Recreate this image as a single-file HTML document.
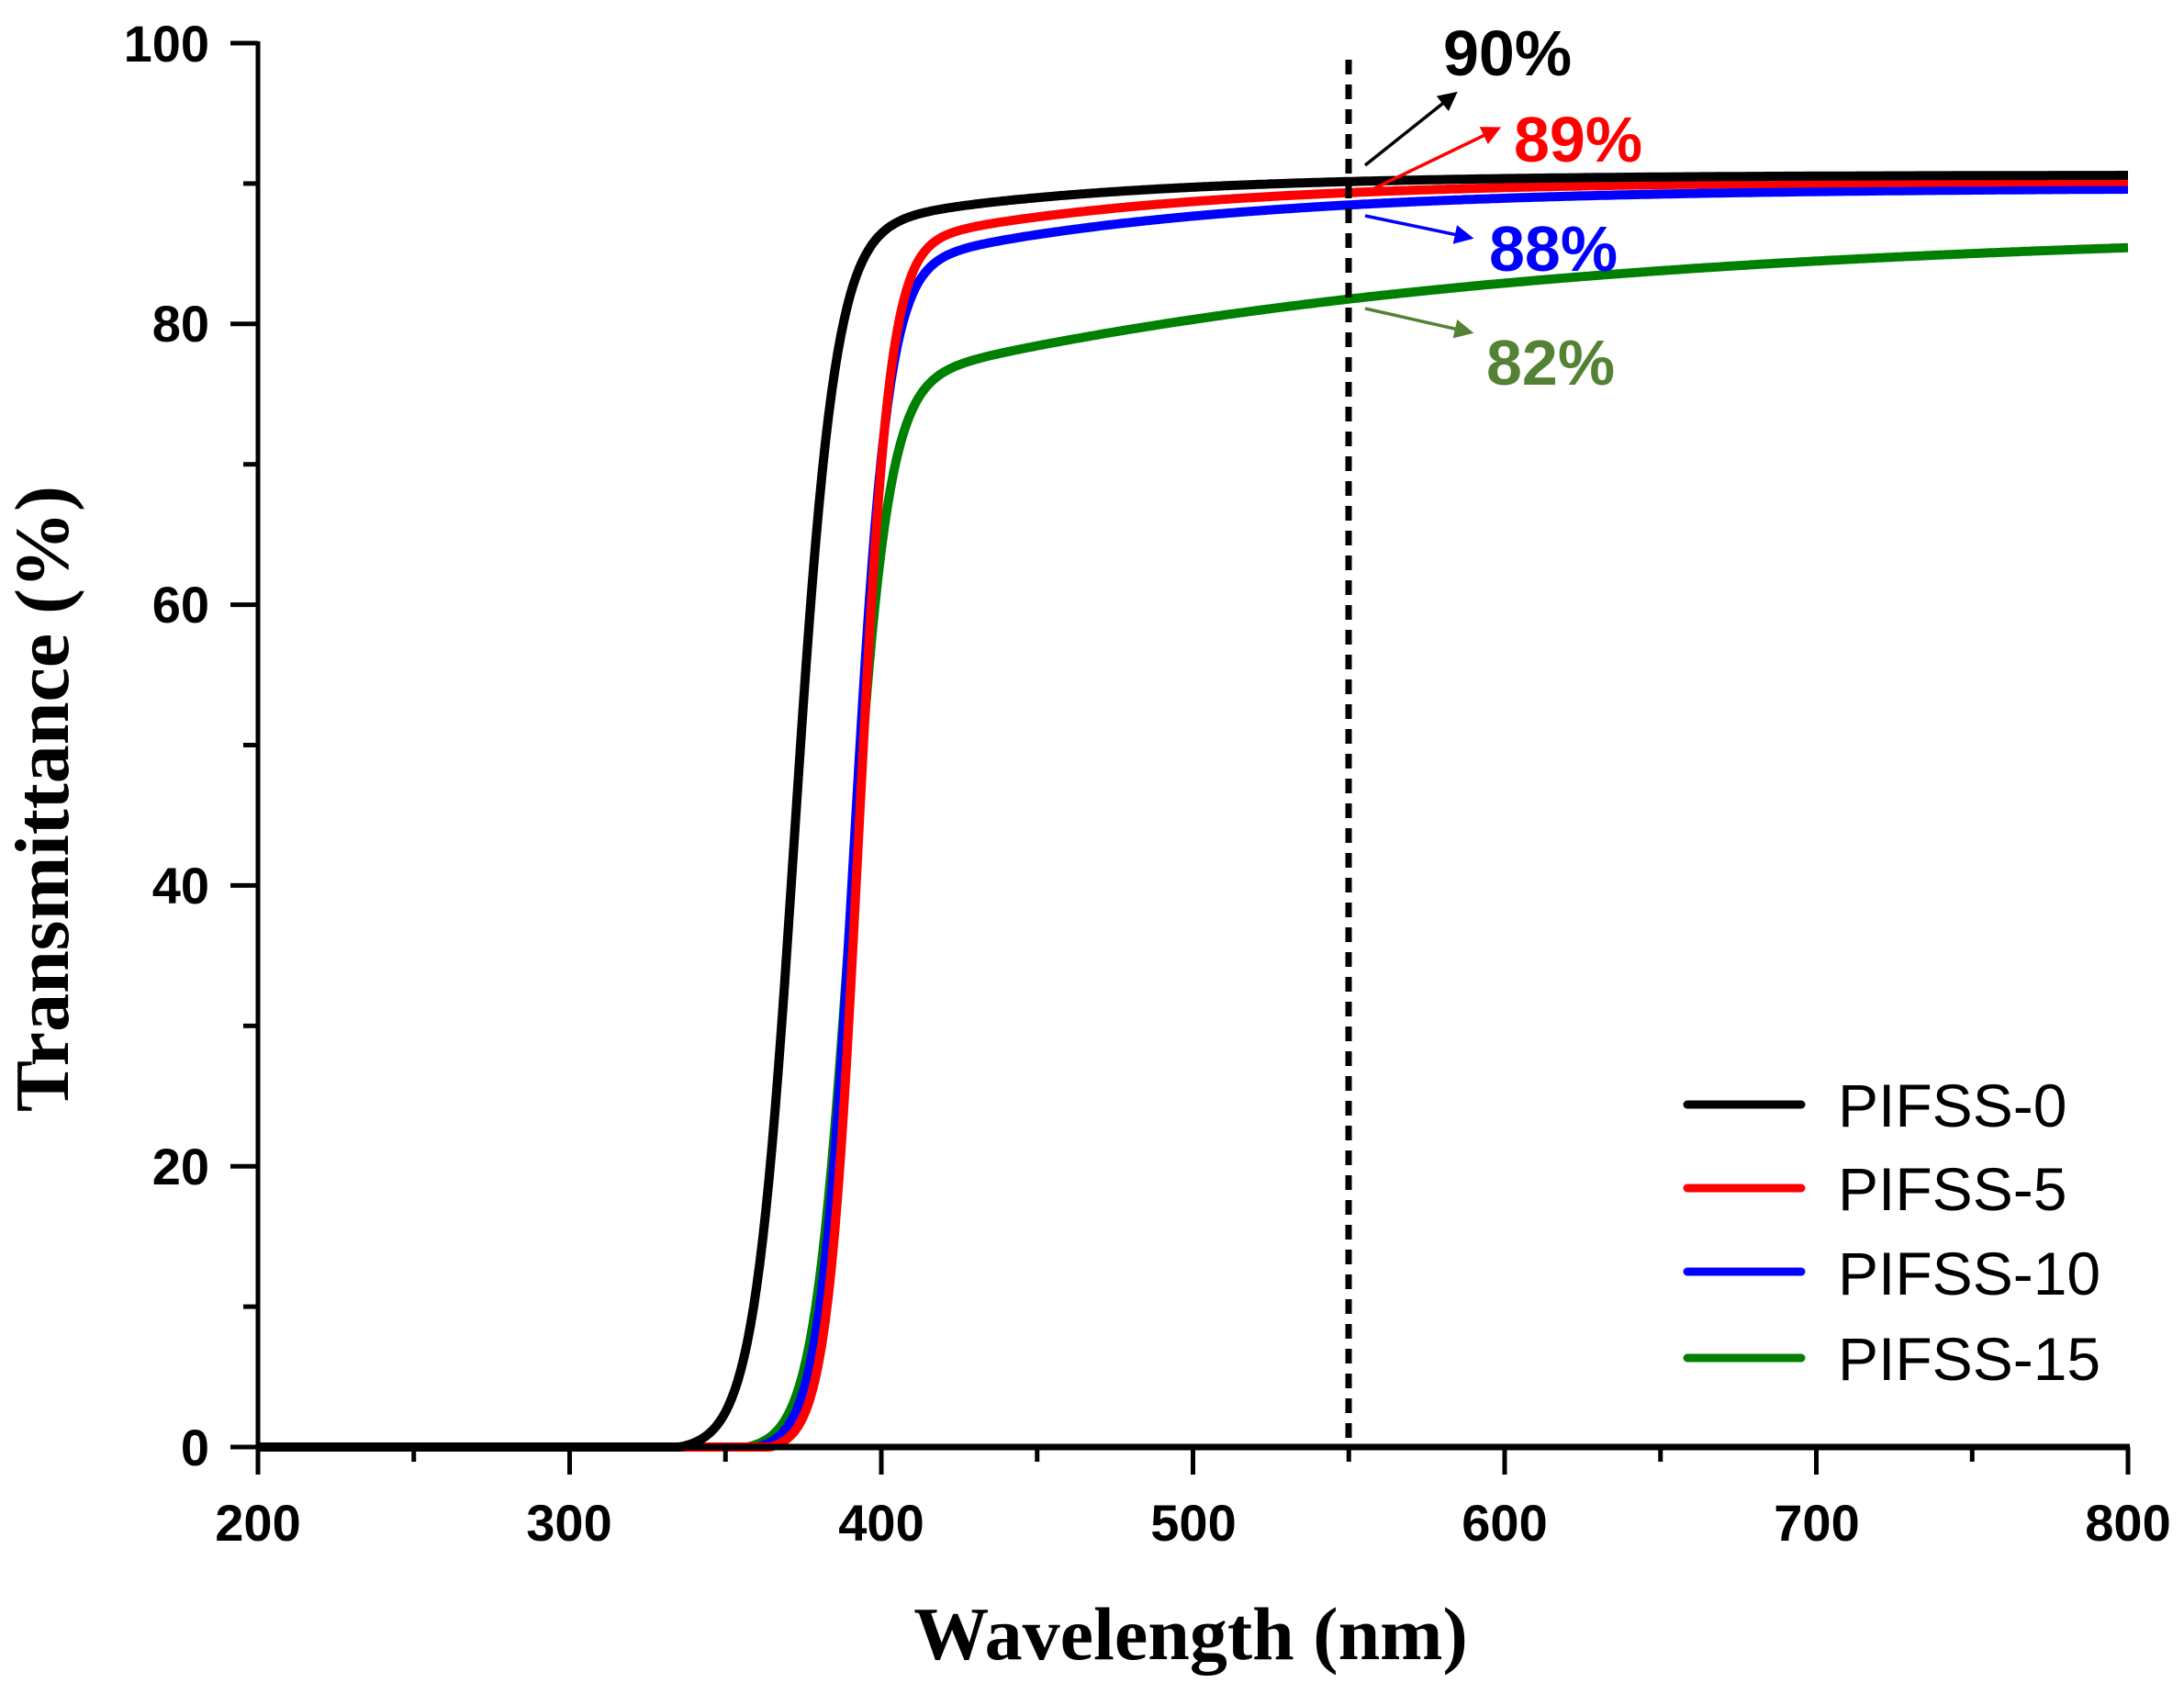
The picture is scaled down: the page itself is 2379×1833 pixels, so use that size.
<!DOCTYPE html>
<html><head><meta charset="utf-8"><style>
html,body{margin:0;padding:0;background:#fff;}
svg{display:block;}
</style></head><body>
<svg id="s" width="2379" height="1833" viewBox="0 0 2379 1833" xmlns="http://www.w3.org/2000/svg">
<rect width="2379" height="1833" fill="#fff"/>
<g id="curves" fill="none" stroke-width="10" stroke-linejoin="round"></g>
<line x1="1469" y1="65" x2="1469" y2="1576" stroke="#000" stroke-width="7" stroke-dasharray="16,11"/>
<line x1="281" y1="45" x2="281" y2="1578" stroke="#000" stroke-width="5"/>
<line x1="279" y1="1576" x2="2320" y2="1576" stroke="#000" stroke-width="7"/>
<g id="ticks" stroke="#000" stroke-width="5"></g>
<g font-family="Liberation Sans, Arial, sans-serif" font-weight="bold" font-size="56" fill="#000">
<text x="228" y="67" text-anchor="end">100</text>
<text x="228" y="372" text-anchor="end">80</text>
<text x="228" y="678" text-anchor="end">60</text>
<text x="228" y="984" text-anchor="end">40</text>
<text x="228" y="1290" text-anchor="end">20</text>
<text x="228" y="1596" text-anchor="end">0</text>
<text x="281" y="1678" text-anchor="middle">200</text>
<text x="620" y="1678" text-anchor="middle">300</text>
<text x="960" y="1678" text-anchor="middle">400</text>
<text x="1300" y="1678" text-anchor="middle">500</text>
<text x="1639" y="1678" text-anchor="middle">600</text>
<text x="1979" y="1678" text-anchor="middle">700</text>
<text x="2318" y="1678" text-anchor="middle">800</text>
</g>
<text x="1297" y="1807" text-anchor="middle" font-family="Liberation Serif, serif" font-weight="bold" font-size="82">Wavelength (nm)</text>
<text transform="translate(74,870) rotate(-90)" text-anchor="middle" font-family="Liberation Serif, serif" font-weight="bold" font-size="84">Transmittance (%)</text>
<defs>
<marker id="ak" markerWidth="6" markerHeight="6" refX="5" refY="3" orient="auto"><path d="M0,0 L6,3 L0,6 z" fill="#000"/></marker>
<marker id="ar" markerWidth="6" markerHeight="6" refX="5" refY="3" orient="auto"><path d="M0,0 L6,3 L0,6 z" fill="#f00"/></marker>
<marker id="ab" markerWidth="6" markerHeight="6" refX="5" refY="3" orient="auto"><path d="M0,0 L6,3 L0,6 z" fill="#00f"/></marker>
<marker id="ag" markerWidth="6" markerHeight="6" refX="5" refY="3" orient="auto"><path d="M0,0 L6,3 L0,6 z" fill="#548235"/></marker>
</defs>
<line x1="1487" y1="180" x2="1585" y2="102" stroke="#000" stroke-width="3.5" marker-end="url(#ak)"/>
<line x1="1487" y1="210" x2="1632" y2="140" stroke="#f00" stroke-width="3.5" marker-end="url(#ar)"/>
<line x1="1487" y1="235" x2="1602" y2="259" stroke="#00f" stroke-width="3.5" marker-end="url(#ab)"/>
<line x1="1487" y1="336" x2="1602" y2="362" stroke="#548235" stroke-width="3.5" marker-end="url(#ag)"/>
<g font-family="Liberation Sans, Arial, sans-serif" font-weight="bold" font-size="70">
<text x="1572" y="82" fill="#000">90%</text>
<text x="1649" y="176" fill="#f00">89%</text>
<text x="1622" y="295" fill="#00f">88%</text>
<text x="1619" y="419" fill="#548235">82%</text>
</g>
<g stroke-width="9" stroke-linecap="round">
<line x1="1838" y1="1203" x2="1962" y2="1203" stroke="#000"/>
<line x1="1838" y1="1294" x2="1962" y2="1294" stroke="#f00"/>
<line x1="1838" y1="1385" x2="1962" y2="1385" stroke="#00f"/>
<line x1="1838" y1="1479" x2="1962" y2="1479" stroke="#008000"/>
</g>
<g font-family="Liberation Sans, Arial, sans-serif" font-size="66" fill="#000">
<text x="2002" y="1227">PIFSS-0</text>
<text x="2002" y="1318">PIFSS-5</text>
<text x="2002" y="1410">PIFSS-10</text>
<text x="2002" y="1503">PIFSS-15</text>
</g>
</svg>
<script>
(function(){
var X=function(l){return 281+(l-200)*2037/600;};
var Y=function(t){return 1576-t*15.29;};
function sig(z){return 1/(1+Math.exp(-z));}
var series=[
 {c:"#008000",f:function(l){return (87.2-12*Math.exp(-(l-380)/200))*sig((l-390)/6);}},
 {c:"#00f",f:function(l){return (90.0-5.5*Math.exp(-(l-400)/100))*sig((l-391)/5.5);}},
 {c:"#f00",f:function(l){return (90.5-4.5*Math.exp(-(l-400)/90))*sig((l-392.5)/5);}},
 {c:"#000",f:function(l){return (90.9-3*Math.exp(-(l-400)/80))*sig((l-372)/6.5);}}
];
var g=document.getElementById("curves");
series.forEach(function(s){
 var d="";
 for(var l=200;l<=800;l+=1){var t=s.f(l)-0.3;if(t<0)t=0;d+=(l==200?"M":"L")+X(l).toFixed(1)+","+Y(t).toFixed(1);}
 var p=document.createElementNS("http://www.w3.org/2000/svg","path");
 p.setAttribute("d",d);p.setAttribute("stroke",s.c);g.appendChild(p);
});
var tk=document.getElementById("ticks"),h="";
for(var v=0;v<=100;v+=10){var y=Y(v),len=(v%20==0)?30:16;
 h+='<line x1="'+(281-len)+'" y1="'+y+'" x2="281" y2="'+y+'"/>';}
for(var l=200;l<=800;l+=50){var x=X(l),len2=(l%100==0)?30:16;
 h+='<line x1="'+x+'" y1="1576" x2="'+x+'" y2="'+(1576+len2)+'"/>';}
tk.innerHTML=h;
})();
</script>
</body></html>
